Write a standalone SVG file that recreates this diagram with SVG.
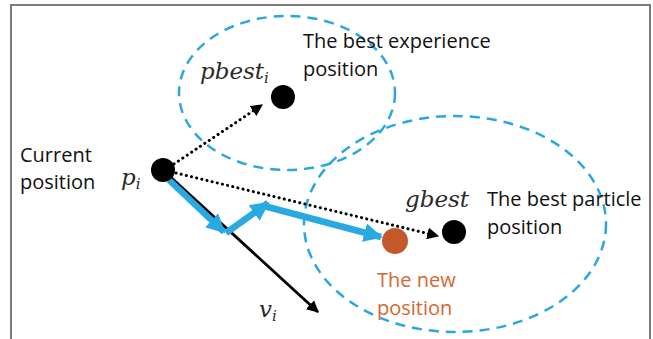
<svg xmlns="http://www.w3.org/2000/svg" width="653" height="339" viewBox="0 0 653 339">
  <style>
    .frame { fill: none; stroke: #7a7a7a; stroke-width: 2; }
    .region { fill: none; stroke: #2aa7df; stroke-width: 2.5; stroke-dasharray: 10 7; }
    .dot { fill: #000; }
    .newdot { fill: #c4582a; }
    .label { font-family: "Open Sans", "Liberation Sans", sans-serif; font-size: 20px; font-weight: 500; fill: #111; }
    .label.new { fill: #d2692f; }
    .math { font-family: "DejaVu Serif", "Liberation Serif", serif; font-style: italic; font-size: 23px; fill: #2a2a2a; }
    .sub { font-size: 15px; }
    .dotted { fill: none; stroke: #000; stroke-width: 3; stroke-linecap: round; stroke-dasharray: 0.1 5.2; }
    .velocity { fill: none; stroke: #000; stroke-width: 2.8; }
    .move { fill: none; stroke: #29a9e1; stroke-width: 6.5; stroke-linejoin: round; }
  </style>
  <defs>
    <marker id="headBlack" viewBox="0 0 10 10" refX="9" refY="5" markerWidth="12" markerHeight="12" markerUnits="userSpaceOnUse" orient="auto">
      <path d="M0,0 L10,5 L0,10 Z" fill="#000"/>
    </marker>
    <marker id="headDot" viewBox="0 0 10 10" refX="9" refY="5" markerWidth="12" markerHeight="12" markerUnits="userSpaceOnUse" orient="auto">
      <path d="M0,0 L10,5 L0,10 Z" fill="#000"/>
    </marker>
    <marker id="headBlue" viewBox="0 0 10 10" refX="9" refY="5" markerWidth="19" markerHeight="19" markerUnits="userSpaceOnUse" orient="auto">
      <path d="M0,0 L10,5 L0,10 Z" fill="#29a9e1"/>
    </marker>
  </defs>

  <!-- outer frame (top, left, right edges) -->
  <path class="frame" d="M11,339 L11,5 L650,5 L650,339"/>

  <!-- search regions -->
  <g id="regions">
    <ellipse class="region" cx="287" cy="93" rx="108" ry="77"/>
    <ellipse class="region" cx="455" cy="224" rx="151" ry="108"/>
  </g>

  <!-- connectors -->
  <g id="connectors">
    <line class="dotted" x1="174" y1="164" x2="262" y2="105" marker-end="url(#headDot)"/>
    <line class="dotted" x1="176" y1="173" x2="438" y2="236" marker-end="url(#headDot)"/>
    <line class="velocity" x1="165" y1="172" x2="318" y2="312" marker-end="url(#headBlack)"/>
    <line class="move" x1="169" y1="180" x2="224" y2="232" marker-end="url(#headBlue)"/>
    <line class="move" x1="226" y1="233" x2="268" y2="203" marker-end="url(#headBlue)"/>
    <line class="move" x1="264" y1="206" x2="381" y2="237" marker-end="url(#headBlue)"/>
  </g>

  <!-- current particle -->
  <g id="node-current">
    <circle class="dot" cx="163" cy="170" r="12"/>
    <text class="label" x="20" y="162">Current</text>
    <text class="label" x="20" y="189">position</text>
    <text class="math" x="121" y="185">p<tspan class="sub" dy="4">i</tspan></text>
  </g>

  <!-- personal best -->
  <g id="node-pbest">
    <circle class="dot" cx="283" cy="97" r="12"/>
    <text class="math" x="200" y="79">pbest<tspan class="sub" dy="4">i</tspan></text>
    <text class="label" x="303" y="48">The best experience</text>
    <text class="label" x="303" y="76">position</text>
  </g>

  <!-- global best -->
  <g id="node-gbest">
    <circle class="dot" cx="454" cy="232" r="12"/>
    <text class="math" x="405" y="207">gbest</text>
    <text class="label" x="487" y="206">The best particle</text>
    <text class="label" x="487" y="234">position</text>
  </g>

  <!-- new position -->
  <g id="node-new">
    <circle class="newdot" cx="395" cy="241" r="13"/>
    <text class="label new" x="377" y="287">The new</text>
    <text class="label new" x="377" y="315">position</text>
  </g>

  <!-- velocity label -->
  <g id="label-velocity">
    <text class="math" x="259" y="317">v<tspan class="sub" dy="4">i</tspan></text>
  </g>
</svg>
